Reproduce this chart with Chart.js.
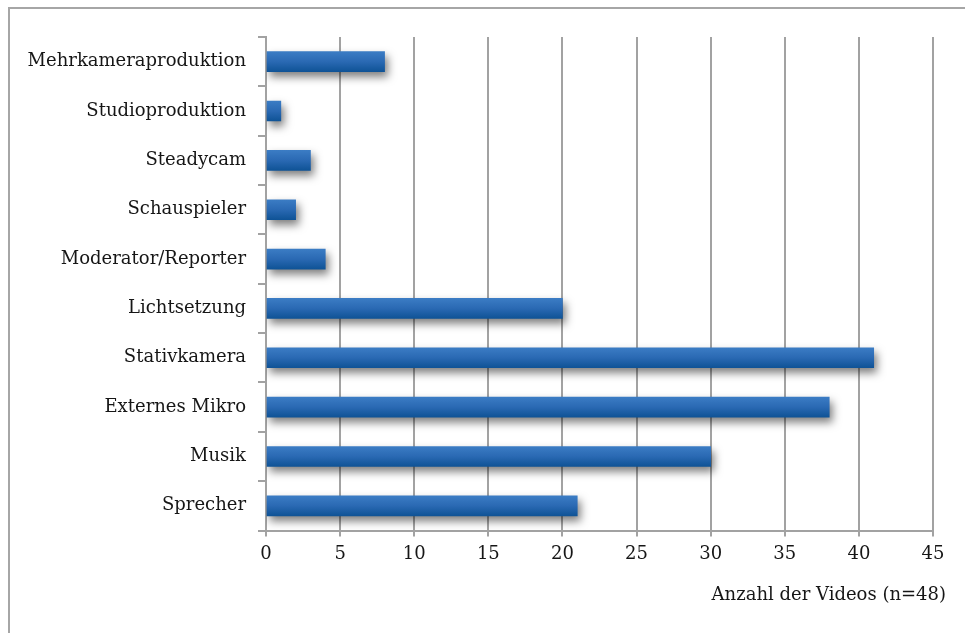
<!DOCTYPE html>
<html>
<head>
<meta charset="utf-8">
<script src="https://cdn.jsdelivr.net/npm/chart.js@4/dist/chart.umd.min.js"></script>
<style>
  html, body { margin: 0; padding: 0; background: #ffffff; }
  #wrap { position: relative; width: 965px; height: 633px; }
</style>
</head>
<body>
<div id="wrap"><canvas id="c" width="965" height="633"></canvas></div>
<script>
// Produktionsmerkmale der Videos
const categories = [
  'Mehrkameraproduktion',
  'Studioproduktion',
  'Steadycam',
  'Schauspieler',
  'Moderator/Reporter',
  'Lichtsetzung',
  'Stativkamera',
  'Externes Mikro',
  'Musik',
  'Sprecher'
];
const videoCounts = [8, 1, 3, 2, 4, 20, 41, 38, 30, 21];
const axisTitle = 'Anzahl der Videos (n=48)';
const xMin = 0, xMax = 45, xStep = 5;

const FONT = 'DejaVu Serif';
const TEXT = '#161616';
const GRID = '#a2a2a2';

// Frame around the chart, white background and the axis caption
const framePlugin = {
  id: 'frame',
  beforeDraw(chart) {
    const ctx = chart.ctx;
    ctx.save();
    ctx.fillStyle = '#ffffff';
    ctx.fillRect(0, 0, chart.width, chart.height);
    ctx.strokeStyle = '#a6a6a6';
    ctx.lineWidth = 2;
    ctx.beginPath();
    ctx.moveTo(9, chart.height);
    ctx.lineTo(9, 8);
    ctx.lineTo(chart.width, 8);
    ctx.stroke();
    ctx.restore();
  },
  afterDraw(chart) {
    const ctx = chart.ctx;
    const area = chart.chartArea;
    ctx.save();
    ctx.font = '18px "' + FONT + '"';
    ctx.fillStyle = TEXT;
    ctx.textAlign = 'right';
    ctx.textBaseline = 'alphabetic';
    ctx.fillText(axisTitle, area.right + 13, area.bottom + 69);
    ctx.restore();
  }
};

// Soft drop shadow under the bars
const shadowPlugin = {
  id: 'barShadow',
  beforeDatasetsDraw(chart) {
    const ctx = chart.ctx;
    ctx.save();
    ctx.shadowColor = 'rgba(0,0,0,0.5)';
    ctx.shadowBlur = 8;
    ctx.shadowOffsetX = 3;
    ctx.shadowOffsetY = 5;
  },
  afterDatasetsDraw(chart) {
    chart.ctx.restore();
  }
};

function barGradient(context) {
  const chart = context.chart;
  const area = chart.chartArea;
  if (!area || !chart.scales.y) return '#2566b0';
  const yc = chart.scales.y.getPixelForValue(context.dataIndex);
  const g = chart.ctx.createLinearGradient(0, yc - 10, 0, yc + 10);
  g.addColorStop(0, '#3b7cc4');
  g.addColorStop(0.5, '#2a69b3');
  g.addColorStop(1, '#0f5396');
  return g;
}

new Chart(document.getElementById('c'), {
  type: 'bar',
  data: {
    labels: categories,
    datasets: [{
      data: videoCounts,
      backgroundColor: barGradient,
      borderWidth: 0,
      barThickness: 20
    }]
  },
  options: {
    indexAxis: 'y',
    responsive: false,
    animation: false,
    devicePixelRatio: 1,
    layout: { padding: { left: 0, right: 32, top: 37, bottom: 0 } },
    plugins: {
      legend: { display: false },
      tooltip: { enabled: false }
    },
    scales: {
      x: {
        min: xMin,
        max: xMax,
        afterFit(scale) { scale.height = 102.5; },
        ticks: {
          stepSize: xStep,
          color: TEXT,
          padding: 7,
          font: { family: FONT, size: 18 }
        },
        grid: {
          color: GRID,
          lineWidth: 2,
          tickLength: 6,
          drawOnChartArea: true
        },
        border: { display: true, color: GRID, width: 2 }
      },
      y: {
        afterFit(scale) { scale.width = 266; },
        ticks: {
          color: TEXT,
          padding: 12,
          font: { family: FONT, size: 18 }
        },
        grid: {
          color: GRID,
          lineWidth: 2,
          tickLength: 8,
          offset: true,
          drawOnChartArea: false
        },
        border: { display: true, color: GRID, width: 2 }
      }
    }
  },
  plugins: [framePlugin, shadowPlugin]
});
</script>
</body>
</html>
